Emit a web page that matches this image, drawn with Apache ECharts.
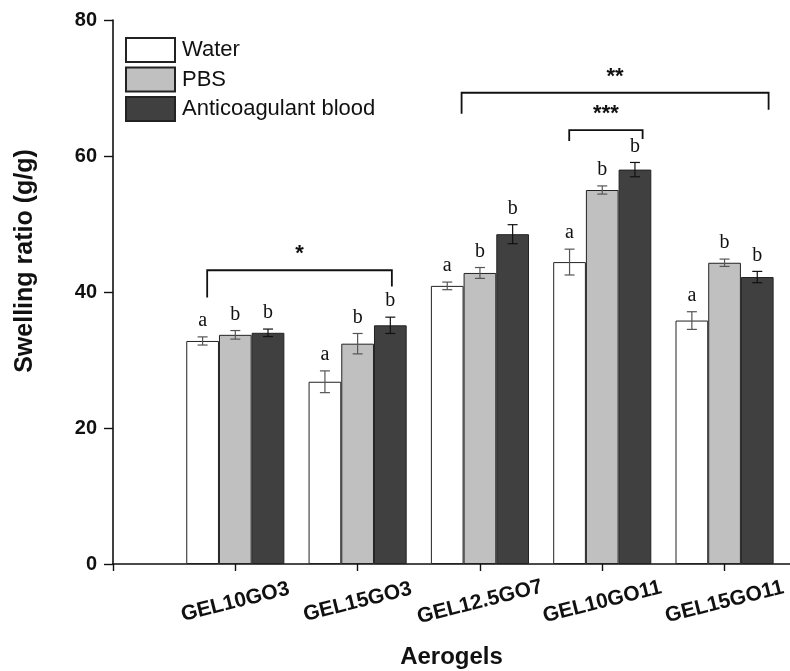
<!DOCTYPE html>
<html><head><meta charset="utf-8">
<script src="https://cdn.jsdelivr.net/npm/echarts@6/dist/echarts.min.js"></script>
<style>html,body{margin:0;padding:0;background:#fff}#c{width:790px;height:671px}</style>
</head><body><div id="c"></div>
<script>
// ---- data ----
const categories = ['GEL10GO3', 'GEL15GO3', 'GEL12.5GO7', 'GEL10GO11', 'GEL15GO11'];
const categoryPos = [1, 2, 3, 4, 5];
const seriesNames = ['Water', 'PBS', 'Anticoagulant blood'];
const water = [32.8, 26.8, 40.9, 44.4, 35.8];
const waterErr = [0.6, 1.6, 0.56, 1.9, 1.3];
const pbs = [33.7, 32.4, 42.8, 55.0, 44.3];
const pbsErr = [0.63, 1.5, 0.8, 0.6, 0.54];
const blood = [34.0, 35.1, 48.5, 58.0, 42.2];
const bloodErr = [0.55, 1.2, 1.4, 1.05, 0.83];
const waterLetters = ['a', 'a', 'a', 'a', 'a'];
const pbsLetters = ['b', 'b', 'b', 'b', 'b'];
const bloodLetters = ['b', 'b', 'b', 'b', 'b'];
const yTicks = [0, 20, 40, 60, 80];
const xTicks = [0, 1, 2, 3, 4, 5];
const bracketFrom = [0.77, 2.85, 3.73];
const bracketTo = [2.28, 5.36, 4.33];
const bracketTop = [43.2, 69.3, 63.8];
const bracketLegFrom = [39.2, 66.2, 62.2];
const bracketLegTo = [40.8, 66.8, 62.5];
const bracketMarks = ['*', '**', '***'];

// ---- styles ----
const BAR_W = 32.7;
const fills = ['#ffffff', '#c0c0c0', '#404040'];
const values = [water, pbs, blood];
const errs = [waterErr, pbsErr, bloodErr];
const letters = [waterLetters, pbsLetters, bloodLetters];
const SANS = '"Liberation Sans", Arial, sans-serif';
const SERIF = '"Liberation Serif", "Times New Roman", serif';

const chart = echarts.init(document.getElementById('c'), null, {renderer: 'canvas'});

const barSeries = seriesNames.map((name, s) => ({
  name: name,
  type: 'bar',
  barWidth: BAR_W,
  barGap: '0%',
  silent: true,
  itemStyle: {color: fills[s], borderColor: '#222', borderWidth: 1},
  data: categoryPos.map((x, i) => [x, values[s][i]])
}));

const errSeries = seriesNames.map((name, s) => ({
  type: 'custom',
  coordinateSystem: 'cartesian2d',
  silent: true,
  z: 5,
  encode: {x: 0, y: 1},
  data: categoryPos.map((x, i) => [x, values[s][i], errs[s][i]]),
  renderItem: function (params, api) {
    const x = api.value(0), m = api.value(1), e = api.value(2);
    const off = (s - 1) * BAR_W;
    const top = api.coord([x, m + e]);
    const bot = api.coord([x, m - e]);
    const cx = top[0] + off;
    const st = {stroke: s === 2 ? '#111' : '#555', lineWidth: 1.2};
    return {
      type: 'group',
      children: [
        {type: 'line', shape: {x1: cx, y1: top[1], x2: cx, y2: bot[1]}, style: st},
        {type: 'line', shape: {x1: cx - 5, y1: top[1], x2: cx + 5, y2: top[1]}, style: st},
        {type: 'line', shape: {x1: cx - 5, y1: bot[1], x2: cx + 5, y2: bot[1]}, style: st},
        {type: 'text', style: {x: cx, y: top[1] - 16, text: letters[s][params.dataIndex],
          fill: '#111', font: '20px ' + SERIF, textAlign: 'center', textVerticalAlign: 'middle'}}
      ]
    };
  }
}));

const bracketSeries = {
  type: 'custom',
  coordinateSystem: 'cartesian2d',
  silent: true,
  z: 6,
  encode: {x: [0, 2], y: [1, 3, 4]},
  data: bracketFrom.map((f, i) => [f, bracketTop[i], bracketTo[i], bracketLegFrom[i], bracketLegTo[i]]),
  renderItem: function (params, api) {
    const i = params.dataIndex;
    const p1 = api.coord([api.value(0), api.value(3)]);
    const p2 = api.coord([api.value(0), api.value(1)]);
    const p3 = api.coord([api.value(2), api.value(1)]);
    const p4 = api.coord([api.value(2), api.value(4)]);
    return {
      type: 'group',
      children: [
        {type: 'polyline', shape: {points: [p1, p2, p3, p4]}, style: {stroke: '#111', lineWidth: 1.8, fill: null}},
        {type: 'text', style: {x: (p2[0] + p3[0]) / 2, y: p2[1] - 16, text: bracketMarks[i],
          fill: '#111', font: 'bold 22px ' + SANS, textAlign: 'center', textVerticalAlign: 'middle'}}
      ]
    };
  }
};

chart.setOption({
  animation: false,
  backgroundColor: '#ffffff',
  grid: {left: 113, right: 0, top: 20, bottom: 107, outerBoundsMode: 'none', containLabel: false},
  legend: {
    data: seriesNames,
    orient: 'vertical',
    left: 120, top: 32,
    itemWidth: 49, itemHeight: 24, itemGap: 3.5,
    icon: 'rect',
    selectedMode: false,
    textStyle: {fontFamily: SANS, fontSize: 22, color: '#111', padding: [0, 0, 0, 2]}
  },
  xAxis: {
    type: 'value',
    min: 0, max: 5.535, interval: 1,
    splitLine: {show: false},
    axisLine: {show: true, onZero: false, lineStyle: {color: '#111', width: 1.6}},
    axisTick: {show: true, inside: false, length: 7, customValues: xTicks, lineStyle: {color: '#111', width: 1.4}},
    axisLabel: {
      customValues: categoryPos,
      formatter: function (v) { const k = categoryPos.indexOf(Math.round(v)); return k >= 0 ? categories[k] : ''; },
      rotate: 14, align: 'center', verticalAlign: 'middle', margin: 38,
      fontFamily: SANS, fontWeight: 'bold', fontSize: 21, color: '#111'
    },
    name: 'Aerogels', nameLocation: 'middle', nameGap: 81,
    nameTextStyle: {fontFamily: SANS, fontWeight: 'bold', fontSize: 24, color: '#111'}
  },
  yAxis: {
    type: 'value',
    min: 0, max: 80, interval: 20,
    splitLine: {show: false},
    axisLine: {show: true, lineStyle: {color: '#111', width: 1.6}},
    axisTick: {show: true, inside: false, length: 9, customValues: yTicks, lineStyle: {color: '#111', width: 1.4}},
    axisLabel: {customValues: yTicks, margin: 16, fontFamily: SANS, fontWeight: 'bold', fontSize: 20, color: '#111'},
    name: 'Swelling ratio (g/g)', nameLocation: 'middle', nameGap: 75,
    nameTextStyle: {fontFamily: SANS, fontWeight: 'bold', fontSize: 25, color: '#111', padding: [0, 0, 0, 62]}
  },
  series: [...barSeries, ...errSeries, bracketSeries]
});
</script>
</body></html>
